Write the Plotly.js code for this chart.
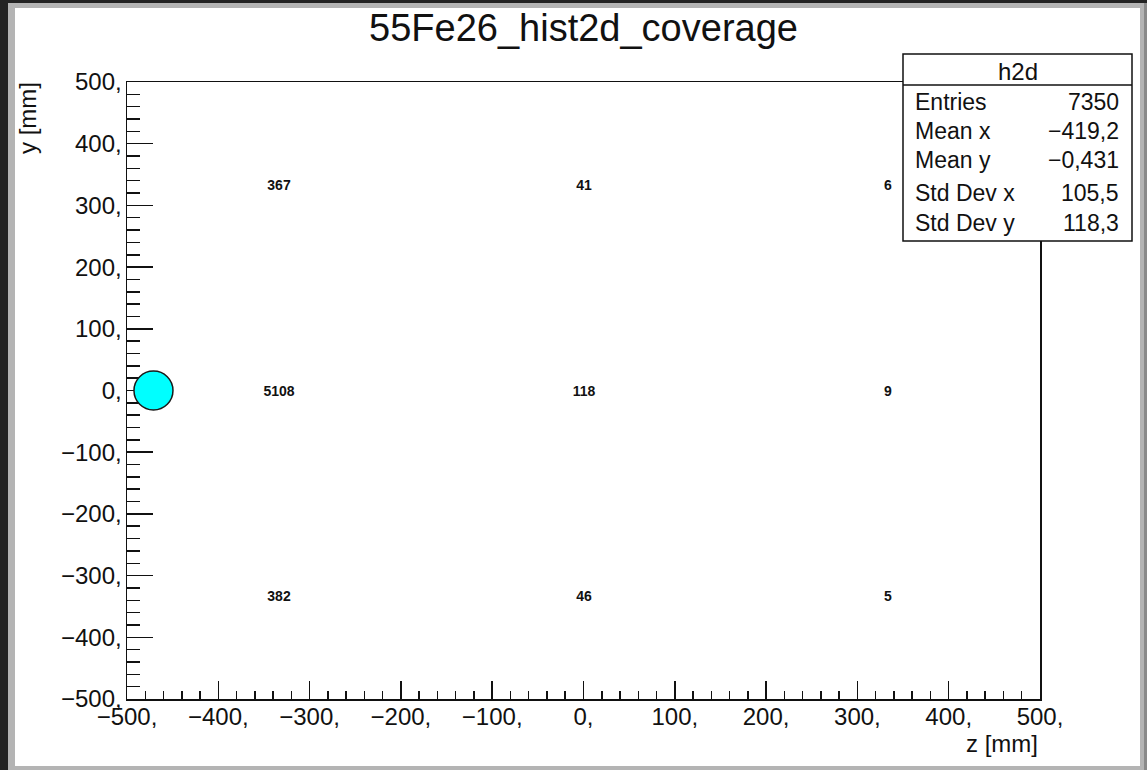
<!DOCTYPE html>
<html>
<head>
<meta charset="utf-8">
<script src="https://cdn.plot.ly/plotly-3.0.1.min.js"></script>
<style>
  html, body { margin: 0; padding: 0; background: #232323; overflow: hidden; }
  #frame  { position: absolute; left: 8px; top: 3px; width: 1136px; height: 767px; background: #b4b4b4; }
  #edge   { position: absolute; left: 1144px; top: 3px; width: 3px; height: 767px; background: #8a8a8a; }
  #canvas { position: absolute; left: 15px; top: 8px; width: 1125px; height: 758px; background: #ffffff; }
  #chart  { position: absolute; left: 0; top: 0; width: 1147px; height: 770px; }
</style>
</head>
<body>
<div id="frame"></div>
<div id="edge"></div>
<div id="canvas"></div>
<div id="chart"></div>
<script>
// 3x3 coverage histogram: bin centres along z and y, counts per bin (rows from bottom to top)
const zBinCenters = [-333.33, 0, 333.33];
const yBinCenters = [-333.33, 0, 333.33];
const binCounts = [
  [382, 46, 5],
  [5108, 118, 9],
  [367, 41, 6]
];

// source position
const sourceZ = [-471];
const sourceY = [0];

// axis ticks
const tickValues = [-500, -400, -300, -200, -100, 0, 100, 200, 300, 400, 500];
const tickLabels = ['\u2212500,', '\u2212400,', '\u2212300,', '\u2212200,', '\u2212100,', '0,',
                    '100,', '200,', '300,', '400,', '500,'];

// statistics box
const statsTitle = 'h2d';
const statNames = ['Entries', 'Mean x', 'Mean y', 'Std Dev x', 'Std Dev y'];
const statValues = ['7350', '\u2212419,2', '\u22120,431', '105,5', '118,3'];

const FONT = 'Liberation Sans, Arial, Helvetica, sans-serif';
const INK = '#111111';

// page geometry of the plotting frame (pixels)
const W = 1147, H = 770;
const L = 127, R = 1040, T = 82, B = 699;
const px = x => (x - L) / (R - L);
const py = y => (B - y) / (B - T);

const heat = {
  type: 'heatmap',
  x: zBinCenters,
  y: yBinCenters,
  z: binCounts,
  colorscale: [[0, 'rgba(255,255,255,0)'], [1, 'rgba(255,255,255,0)']],
  showscale: false,
  texttemplate: '%{z}',
  textfont: { family: FONT, size: 14, color: INK, weight: 'bold' },
  hoverinfo: 'skip'
};

function axis(len, minorLen, standoff) {
  return {
    range: [-500, 500],
    showline: true, linecolor: INK, linewidth: 1.5, mirror: true,
    showgrid: false, zeroline: false,
    ticks: 'inside', ticklen: len, tickwidth: 1.5, tickcolor: INK,
    tickmode: 'array', tickvals: tickValues, ticktext: tickLabels,
    tickfont: { family: FONT, size: 24, color: INK },
    ticklabelstandoff: standoff,
    minor: { ticks: 'inside', ticklen: minorLen, tickwidth: 1.5, tickcolor: INK,
             tickmode: 'linear', tick0: -500, dtick: 20, showgrid: false },
    fixedrange: true
  };
}

const annotations = [];
// axis titles
annotations.push({
  xref: 'paper', yref: 'paper', x: px(R), y: py(743), xanchor: 'right', yanchor: 'middle',
  text: 'z [mm]', showarrow: false, font: { family: FONT, size: 24, color: INK }
});
annotations.push({
  xref: 'paper', yref: 'paper', x: px(28), y: py(80), xanchor: 'center', yanchor: 'top',
  text: 'y [mm]', textangle: -90, showarrow: false, font: { family: FONT, size: 24, color: INK }
});
// statistics box text
annotations.push({
  xref: 'paper', yref: 'paper', x: px(1017.5), y: py(71), xanchor: 'center', yanchor: 'middle',
  text: statsTitle, showarrow: false, font: { family: FONT, size: 24, color: INK }
});
const rowY = [102, 131, 160, 193, 223];
statNames.forEach((name, i) => {
  annotations.push({
    xref: 'paper', yref: 'paper', x: px(913), y: py(rowY[i]), xanchor: 'left', yanchor: 'middle',
    text: name, showarrow: false, font: { family: FONT, size: 23, color: INK }
  });
  annotations.push({
    xref: 'paper', yref: 'paper', x: px(1121), y: py(rowY[i]), xanchor: 'right', yanchor: 'middle',
    text: statValues[i], showarrow: false, font: { family: FONT, size: 23, color: INK }
  });
});

const shapes = [
  // source marker, placed on the data axes and drawn above the tick marks
  { type: 'circle', xref: 'x', yref: 'y', layer: 'above',
    xsizemode: 'pixel', ysizemode: 'pixel',
    xanchor: sourceZ[0], yanchor: sourceY[0],
    x0: -19.5, x1: 19.5, y0: -19.5, y1: 19.5,
    fillcolor: '#00ffff', line: { color: '#1a1a1a', width: 1.5 } },
  // statistics box
  { type: 'rect', xref: 'paper', yref: 'paper', layer: 'above',
    x0: px(903), x1: px(1132), y0: py(241), y1: py(54),
    fillcolor: '#ffffff', line: { color: INK, width: 1.5 } },
  { type: 'line', xref: 'paper', yref: 'paper', layer: 'above',
    x0: px(903), x1: px(1132), y0: py(85), y1: py(85),
    line: { color: INK, width: 1.5 } }
];

const layout = {
  width: W, height: H,
  margin: { l: L, r: W - R, t: T, b: H - B, pad: 0 },
  paper_bgcolor: 'rgba(0,0,0,0)',
  plot_bgcolor: '#ffffff',
  showlegend: false,
  title: {
    text: '55Fe26_hist2d_coverage',
    font: { family: FONT, size: 38, color: INK },
    xref: 'paper', x: 0.5, xanchor: 'center',
    yref: 'container', y: 1 - 28 / H, yanchor: 'middle'
  },
  xaxis: axis(18, 8, -4),
  yaxis: axis(26, 13, -1),
  annotations: annotations,
  shapes: shapes
};

Plotly.newPlot('chart', [heat], layout, { staticPlot: true, displayModeBar: false });
</script>
</body>
</html>
